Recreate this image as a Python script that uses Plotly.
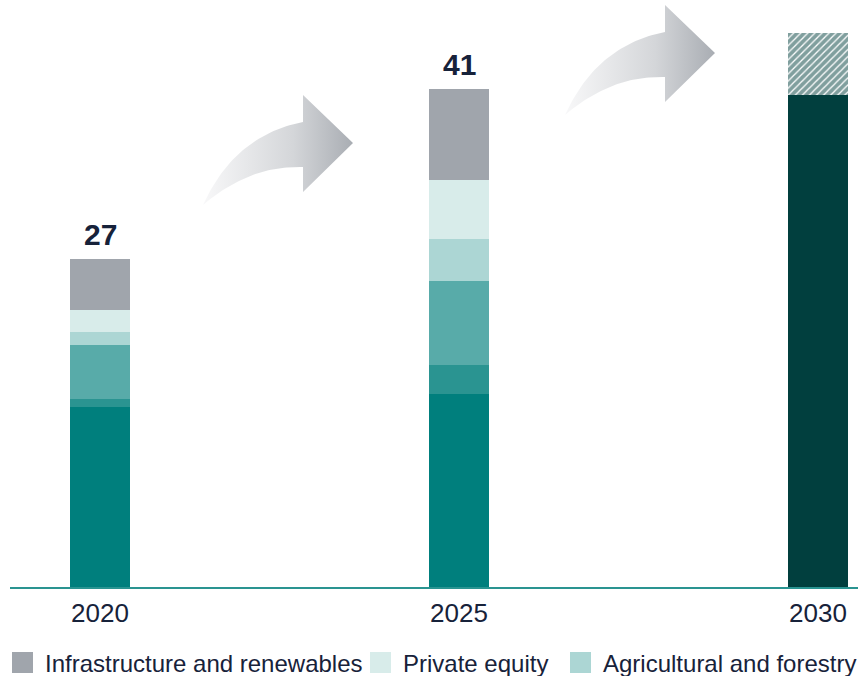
import numpy as np
import plotly.graph_objects as go

# ---- data -------------------------------------------------------------
years = ["2020", "2025", "2030"]

# stacked segments, bottom to top (bn)
segment_core = [14.8, 15.9, None]
segment_second = [0.7, 2.4, None]
segment_third = [4.4, 6.9, None]
agri_forestry = [1.1, 3.4, None]
private_equity = [1.8, 4.9, None]
infra_renew = [4.2, 7.5, None]

# 2030 ambition: firm part plus upside range
target_2030 = [None, None, 40.5]
upside_2030 = [None, None, 5.1]

total_years = ["2020", "2025"]
totals = [27, 41]

legend_names = ["Infrastructure and renewables", "Private equity",
                "Agricultural and forestry"]

# ---- styling ----------------------------------------------------------
W, H = 858, 676
PLOT_L, PLOT_R, PLOT_T, PLOT_B = 10, 858, 0, 587
FONT = "Liberation Sans, Arial, sans-serif"
TEXT_DARK = "#17223a"

colors = {
    "core": "#007f7d",
    "second": "#2a9491",
    "third": "#58aba9",
    "agri": "#acd6d4",
    "pe": "#d8ecea",
    "infra": "#a0a5ac",
    "target": "#013f3e",
}

BAR_W = 0.167

fig = go.Figure()

stack = [
    ("Core segment", segment_core, colors["core"]),
    ("Second segment", segment_second, colors["second"]),
    ("Third segment", segment_third, colors["third"]),
    (legend_names[2], agri_forestry, colors["agri"]),
    (legend_names[1], private_equity, colors["pe"]),
    (legend_names[0], infra_renew, colors["infra"]),
]
for name, vals, col in stack:
    fig.add_trace(go.Bar(x=years, y=vals, name=name, width=BAR_W,
                         marker=dict(color=col, line=dict(width=0)),
                         showlegend=False, hoverinfo="skip"))

fig.add_trace(go.Bar(x=years, y=target_2030, name="2030 target", width=BAR_W,
                     marker=dict(color=colors["target"], line=dict(width=0)),
                     showlegend=False, hoverinfo="skip"))
fig.add_trace(go.Bar(x=years, y=upside_2030, name="2030 upside", width=BAR_W,
                     marker=dict(color="white", line=dict(width=0),
                                 pattern=dict(shape="/", fgcolor=colors["target"],
                                              bgcolor="white", size=5,
                                              solidity=0.75)),
                     showlegend=False, hoverinfo="skip"))

# total labels above the stacks
for yr, tot in zip(total_years, totals):
    fig.add_annotation(x=years.index(yr), y=tot, xref="x", yref="y",
                       text=f"<b>{tot}</b>", showarrow=False,
                       yanchor="bottom", yshift=6,
                       font=dict(family=FONT, size=30, color=TEXT_DARK))


# ---- curved growth arrows (pixel overlay axes) ------------------------
def bezier(p0, c, p1, n=40):
    t = np.linspace(0, 1, n)[:, None]
    p0, c, p1 = map(np.asarray, (p0, c, p1))
    return (1 - t) ** 2 * p0 + 2 * (1 - t) * t * c + t ** 2 * p1


def arrow_outline(dx, dy):
    tail = (203, 205)
    upper = bezier(tail, (235, 135), (303, 122))
    head = np.array([(303, 95), (353, 143), (303, 192), (303, 167)])
    lower = bezier((303, 167), (250, 165), tail)
    pts = np.vstack([upper, head, lower]) + np.array([dx, dy])
    return pts[:, 0], pts[:, 1]


for dx, dy in [(0, 0), (362, -90)]:
    ax, ay = arrow_outline(dx, dy)
    fig.add_trace(go.Scatter(
        x=ax, y=ay, xaxis="x2", yaxis="y2", mode="lines",
        line=dict(width=0, color="rgba(0,0,0,0)"), fill="toself",
        fillgradient=dict(type="horizontal",
                          colorscale=[[0, "#f8f8f9"], [0.6, "#d4d6d9"],
                                      [1, "#a9adb3"]]),
        showlegend=False, hoverinfo="skip"))


# ---- manual legend ----------------------------------------------------
def px_x(v):
    return (v - PLOT_L) / (PLOT_R - PLOT_L)


def px_y(v):
    return (PLOT_B - v) / (PLOT_B - PLOT_T)


legend_items = [
    (legend_names[0], colors["infra"], 12),
    (legend_names[1], colors["pe"], 370),
    (legend_names[2], colors["agri"], 570),
]
for name, col, x0 in legend_items:
    fig.add_shape(type="rect", xref="paper", yref="paper",
                  x0=px_x(x0), x1=px_x(x0 + 21), y0=px_y(652), y1=px_y(673),
                  fillcolor=col, line=dict(width=0))
    fig.add_annotation(xref="paper", yref="paper", x=px_x(x0 + 31),
                       y=px_y(663), text=name, showarrow=False,
                       xanchor="left", yanchor="middle",
                       font=dict(family=FONT, size=24, color=TEXT_DARK))

fig.update_layout(
    width=W, height=H,
    margin=dict(l=PLOT_L, r=W - PLOT_R, t=PLOT_T, b=H - PLOT_B),
    paper_bgcolor="white", plot_bgcolor="white",
    barmode="stack", bargap=0,
    showlegend=False,
    font=dict(family=FONT, color=TEXT_DARK),
    xaxis=dict(type="category", range=[-0.2507, 2.1114], showgrid=False,
               zeroline=False, showline=True, linecolor="#2a9491",
               linewidth=2, ticks="", ticklabelstandoff=2,
               tickfont=dict(family=FONT, size=26, color=TEXT_DARK),
               fixedrange=True),
    yaxis=dict(range=[0, 48.3], visible=False, fixedrange=True),
    xaxis2=dict(overlaying="x", range=[PLOT_L, PLOT_R], visible=False,
                fixedrange=True),
    yaxis2=dict(overlaying="y", range=[PLOT_B, PLOT_T], visible=False,
                fixedrange=True),
)

fig.write_html("out.html")
